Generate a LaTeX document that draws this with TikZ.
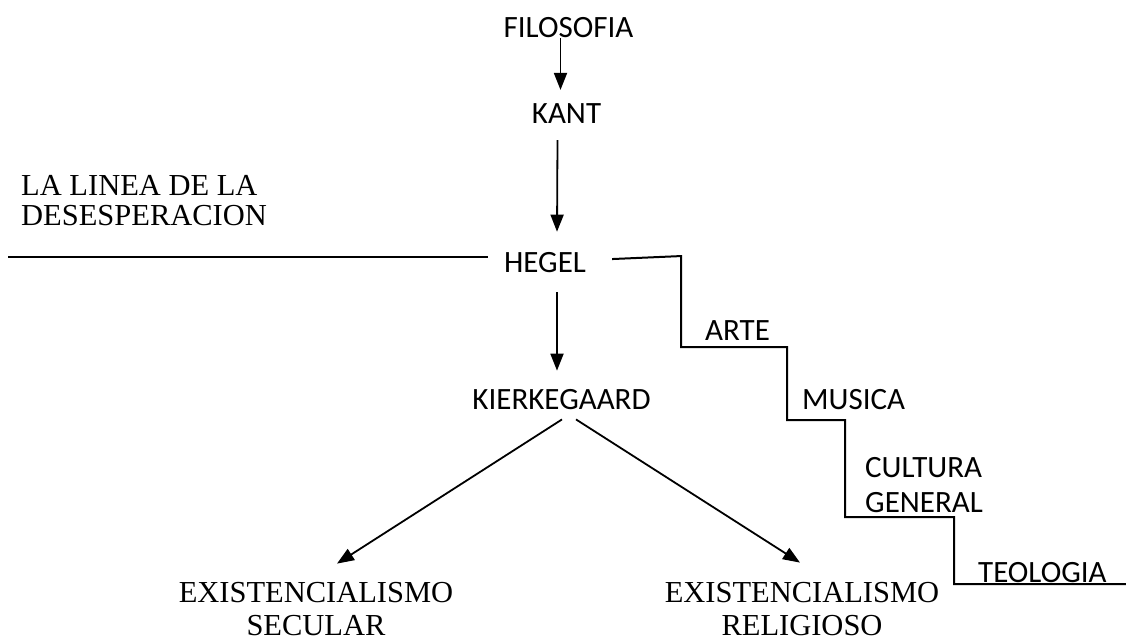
\documentclass[tikz,border=0pt]{standalone}
\usepackage{fontspec}
\newfontfamily\sansf{Carlito}
\newfontfamily\seriff{Liberation Serif}
\usetikzlibrary{arrows.meta}
\tikzset{
  sanslbl/.style={inner sep=0pt, font=\sansf\fontsize{31}{35}\selectfont},
  seriflbl/.style={inner sep=0pt, align=center, font=\seriff\fontsize{30.5}{33}\selectfont},
  arr/.style={line width=1.8pt, -{Triangle[length=17pt,width=13pt]}},
  plain/.style={line width=2pt}
}
\begin{document}
\begin{tikzpicture}[x=1pt,y=-1pt]
\useasboundingbox (0,0) rectangle (1126,641);
% nodes
\node[sanslbl, anchor=base] (filo) at (568.5,37) {FILOSOFIA};
\node[sanslbl, anchor=base] (kant) at (566.5,123) {KANT};
\node[sanslbl, anchor=base] (hegel) at (545,272) {HEGEL};
\node[sanslbl, anchor=base] (kierk) at (561.5,409) {KIERKEGAARD};
\node[seriflbl, anchor=base west, align=left, font=\seriff\fontsize{30.5}{30}\selectfont] (linea) at (21,225) {LA LINEA DE LA\\DESESPERACION};
\node[seriflbl, anchor=base] (secular) at (316,635) {EXISTENCIALISMO\\SECULAR};
\node[seriflbl, anchor=base] (religioso) at (802,635) {EXISTENCIALISMO\\RELIGIOSO};
\node[sanslbl, anchor=base west] (arte) at (705,340) {ARTE};
\node[sanslbl, anchor=base west] (musica) at (802,409) {MUSICA};
\node[sanslbl, anchor=base west, align=left] (cultura) at (865,512) {CULTURA\\GENERAL};
\node[sanslbl, anchor=base west] (teologia) at (978,582) {TEOLOGIA};
\coordinate (lfree) at (8,257);
\coordinate (rfree) at (1126,584);
% arrows
\draw[arr] ([xshift=-8pt,yshift=-1pt]filo.south) -- ([xshift=-6pt,yshift=13pt]kant.north);
\draw[arr] ([xshift=-9pt,yshift=-17pt]kant.south) -- ([xshift=12pt,yshift=20pt]hegel.north);
\draw[arr] ([xshift=12pt,yshift=-20pt]hegel.south) -- ([xshift=-4.5pt,yshift=18pt]kierk.north);
\draw[arr] ([xshift=0.5pt,yshift=-10pt]kierk.south) -- ([xshift=21pt,yshift=18pt]secular.north);
\draw[arr] ([xshift=14.5pt,yshift=-10pt]kierk.south) -- ([xshift=-2pt,yshift=19pt]religioso.north);
% line of despair
\draw[plain] (lfree) -- ([xshift=-16pt]lfree -| hegel.west);
% staircase
\draw[plain] ([xshift=26pt,yshift=3pt]hegel.east) -- ++(69,-3) |- (787,347) |- (845,420) |- (954,517) |- (rfree);
\end{tikzpicture}
\end{document}
